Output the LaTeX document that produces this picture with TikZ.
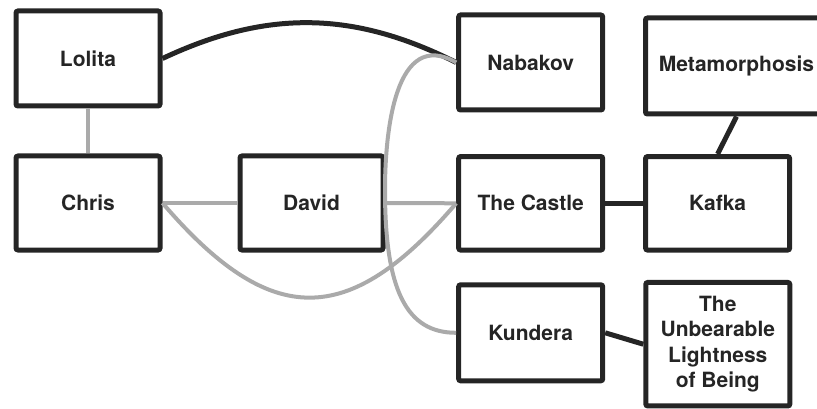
\documentclass[tikz,border=0pt]{standalone}
\usepackage{fontspec}
\setmainfont{TeX Gyre Heros}
\definecolor{ink}{HTML}{252525}
\definecolor{link}{HTML}{AAAAAA}
\begin{document}
\begin{tikzpicture}[x=1pt,y=1pt,
  book/.style={draw=ink, line width=5pt, rounded corners=2pt,
    minimum width=144pt, minimum height=94pt, inner sep=0pt,
    font=\bfseries\fontsize{21}{25.5}\selectfont, text=ink, align=center},
  tie/.style={draw=ink, line width=5pt},
  hint/.style={draw=link, line width=4pt}]
\useasboundingbox (0,0) rectangle (817,-409);
\clip (0,0) rectangle (817,-409);

% books and authors
\node[book, minimum height=95pt] (lol) at (88,-58.5) {Lolita};
\node[book] (chr) at (88,-203) {Chris};
\node[book, minimum width=143pt] (dav) at (311.5,-203) {David};
\node[book, minimum height=95pt] (nab) at (530.7,-62.5) {Nabakov};
\node[book, minimum width=182pt, minimum height=96pt] (met) at (736.5,-66) {Metamorphosis};
\node[book, minimum height=93.5pt] (cas) at (530.7,-203.3) {The Castle};
\node[book, minimum height=93.5pt] (kaf) at (717.6,-203.3) {Kafka};
\node[book, minimum height=96pt] (kun) at (530.7,-332.8) {Kundera};
\node[book, minimum height=123.5pt] (unb) at (717.8,-344.2) {The\\Unbearable\\Lightness\\of Being};

% strong ties
\draw[tie] (lol.east) to[bend left=26] (nab.west);
\draw[tie] (cas.east) -- (kaf.west);
\draw[tie] (met.south) -- (kaf.north);
\draw[tie] (kun.east) -- (unb.west);

% weak ties
\draw[hint] (lol.south) -- (chr.north);
\draw[hint] (chr.east) -- (dav.west);
\draw[hint] (dav.east) -- (cas.west);
\draw[hint] (chr.east) .. controls +(108,-126) and +(-108,-126) .. (cas.west);
\coordinate (nkturn) at (385,-190);
\draw[hint] (nab.west) .. controls +(150:70) and +(0,60) .. (nkturn)
  .. controls +(0,-100) and +(-50,0) .. (kun.west);
\end{tikzpicture}
\end{document}
